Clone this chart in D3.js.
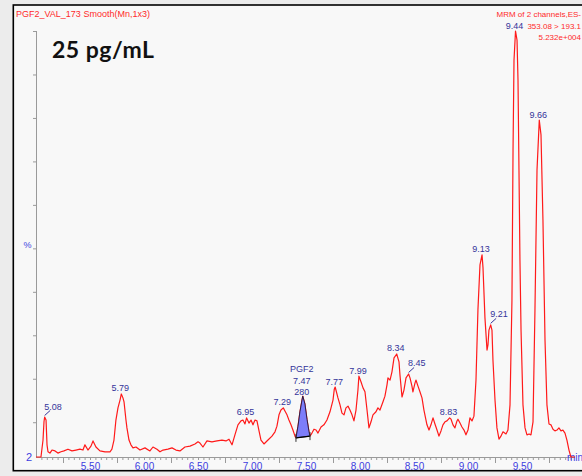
<!DOCTYPE html>
<html>
<head>
<meta charset="utf-8">
<script src="https://cdn.jsdelivr.net/npm/d3@7"></script>
<style>
  html, body { margin: 0; padding: 0; background: #ececec; overflow: hidden; }
  svg { display: block; }
  text { font-family: "Liberation Sans", Arial, sans-serif; }
</style>
</head>
<body>
<svg id="chart" width="582" height="476"></svg>
<script>
// Chromatogram trace: retention time (min) and relative intensity (%)
const rtMin = [
  5.000, 5.046, 5.065, 5.074, 5.080, 5.093, 5.102, 5.111, 5.129, 5.148,
  5.176, 5.203, 5.231, 5.259, 5.296, 5.333, 5.370, 5.407, 5.435, 5.453,
  5.481, 5.509, 5.528, 5.555, 5.592, 5.639, 5.685, 5.703, 5.722, 5.740,
  5.759, 5.778, 5.790, 5.805, 5.815, 5.833, 5.842, 5.861, 5.879, 5.898,
  5.926, 5.963, 6.009, 6.055, 6.083, 6.120, 6.148, 6.176, 6.222, 6.259,
  6.296, 6.333, 6.379, 6.426, 6.472, 6.500, 6.518, 6.546, 6.583, 6.629,
  6.676, 6.722, 6.759, 6.787, 6.815, 6.842, 6.870, 6.898, 6.916, 6.935,
  6.950, 6.972, 6.991, 7.009, 7.028, 7.046, 7.065, 7.083, 7.111, 7.148,
  7.185, 7.213, 7.231, 7.250, 7.268, 7.290, 7.305, 7.324, 7.342, 7.361,
  7.379, 7.398, 7.407, 7.426, 7.444, 7.463, 7.470, 7.490, 7.509, 7.528,
  7.537, 7.555, 7.574, 7.593, 7.611, 7.639, 7.666, 7.694, 7.722, 7.750,
  7.762, 7.770, 7.796, 7.815, 7.833, 7.852, 7.870, 7.889, 7.907, 7.926,
  7.944, 7.963, 7.981, 7.990, 8.009, 8.028, 8.046, 8.065, 8.083, 8.102,
  8.120, 8.148, 8.166, 8.185, 8.213, 8.231, 8.250, 8.259, 8.278, 8.296,
  8.315, 8.340, 8.361, 8.370, 8.389, 8.407, 8.426, 8.450, 8.463, 8.481,
  8.490, 8.509, 8.518, 8.537, 8.555, 8.574, 8.592, 8.611, 8.620, 8.639,
  8.657, 8.676, 8.694, 8.713, 8.731, 8.750, 8.768, 8.787, 8.805, 8.830,
  8.843, 8.861, 8.879, 8.898, 8.907, 8.926, 8.944, 8.963, 8.981, 9.000,
  9.018, 9.037, 9.055, 9.074, 9.092, 9.111, 9.130, 9.139, 9.157, 9.176,
  9.185, 9.194, 9.210, 9.222, 9.231, 9.250, 9.268, 9.287, 9.305, 9.324,
  9.352, 9.370, 9.389, 9.407, 9.417, 9.426, 9.440, 9.454, 9.463, 9.472,
  9.481, 9.491, 9.509, 9.528, 9.546, 9.565, 9.583, 9.602, 9.620, 9.639,
  9.660, 9.676, 9.694, 9.713, 9.731, 9.750, 9.768, 9.787, 9.805, 9.824,
  9.842, 9.861, 9.879, 9.898, 9.916, 9.935, 9.953, 9.990
];
const intensityPct = [
  2.0, 2.0, 5.9, 10.1, 11.2, 10.5, 4.8, 3.2, 2.9, 3.6,
  3.4, 2.9, 3.2, 3.4, 3.8, 3.4, 3.6, 3.8, 3.6, 4.8,
  3.6, 4.5, 5.7, 4.3, 3.4, 3.2, 3.2, 3.8, 5.9, 10.5,
  13.3, 15.1, 16.5, 15.6, 14.7, 10.5, 8.7, 5.9, 4.8, 4.1,
  4.3, 3.6, 4.1, 3.4, 4.3, 3.8, 3.2, 3.6, 3.8, 4.1,
  3.6, 3.4, 4.3, 4.5, 5.0, 5.5, 5.2, 4.3, 5.7, 5.5,
  5.7, 5.9, 5.7, 6.1, 4.8, 7.1, 9.4, 10.3, 10.5, 9.6,
  11.0, 9.8, 10.5, 9.4, 10.5, 10.3, 8.0, 5.9, 5.0, 5.9,
  6.8, 7.8, 9.1, 11.7, 12.8, 13.3, 12.6, 11.7, 10.5, 9.4,
  8.2, 6.8, 6.4, 9.1, 12.4, 15.1, 16.0, 14.2, 10.7, 7.8,
  6.8, 7.5, 8.4, 8.2, 7.5, 8.9, 9.4, 10.5, 12.4, 15.1,
  17.6, 18.1, 15.6, 14.0, 12.1, 11.7, 13.3, 13.7, 12.8, 11.7,
  10.3, 12.8, 17.4, 20.6, 19.3, 17.9, 17.0, 12.8, 8.7, 10.1,
  11.7, 12.4, 13.3, 12.8, 14.7, 16.0, 18.6, 20.2, 19.7, 21.6,
  24.8, 25.7, 23.9, 20.9, 15.8, 17.4, 20.2, 21.1, 20.2, 18.3,
  17.0, 19.0, 19.7, 18.3, 17.0, 15.6, 12.8, 10.5, 9.4, 8.2,
  9.4, 11.0, 9.6, 8.2, 6.8, 8.0, 9.4, 10.1, 10.3, 11.0,
  10.7, 9.4, 8.7, 10.3, 10.7, 9.8, 8.9, 8.2, 7.1, 8.2,
  11.0, 10.3, 11.4, 19.7, 35.8, 46.2, 48.5, 45.5, 34.0, 26.6,
  27.8, 31.2, 32.4, 31.2, 24.3, 15.1, 8.7, 6.1, 6.8, 7.8,
  7.3, 8.2, 14.0, 38.1, 72.6, 93.3, 100.0, 97.9, 88.7, 68.0,
  47.3, 31.2, 14.0, 8.7, 7.1, 7.3, 7.1, 10.1, 35.8, 68.0,
  79.5, 76.1, 56.5, 28.9, 14.0, 9.6, 9.4, 8.4, 8.0, 8.2,
  8.7, 8.0, 8.2, 7.5, 5.9, 3.6, 2.0, 2.0
];

// Apex annotations (retention times as printed on the chart)
const peakTimes = [5.08, 5.79, 6.95, 7.29, 7.47, 7.77, 7.99, 8.34, 8.45, 8.83, 9.13, 9.21, 9.44, 9.66];
// Peaks whose label is pushed aside with a short leader line
const leaderPeaks = [5.08, 8.45, 9.21];

// Integrated PGF2 peak: name, apex time, area, integration start / end (min, %)
const pgfName = "PGF2";
const pgfApex = 7.47;
const pgfArea = 280;
const pgfStart = [7.407, 6.4];
const pgfEnd = [7.537, 6.8];

// Axis annotations
const xTickLabels = [5.5, 6.0, 6.5, 7.0, 7.5, 8.0, 8.5, 9.0, 9.5];
const yTickValues = [10, 20, 30, 40, 50, 60, 70, 80, 90, 100];
const yOffsetLabel = "2";

// Header texts
const traceTitle = "PGF2_VAL_173 Smooth(Mn,1x3)";
const sampleTitle = "25 pg/mL";
const channelInfo = ["MRM of 2 channels,ES-", "353.08 > 193.1", "5.232e+004"];

const svg = d3.select("#chart");

// Window frame
svg.append("rect")
  .attr("x", 13.3).attr("y", 5).attr("width", 620).attr("height", 465.7)
  .attr("fill", "#f8f8f8").attr("stroke", "#000").attr("stroke-width", 1.6);

const x = d3.scaleLinear().domain([5, 10]).range([36, 576]);
const y = d3.scaleLinear().domain([2, 100]).range([457, 31]);

// X axis: minor ticks every 0.05 min, longer ticks on the quarter minutes
const minorTicks = d3.range(5.05, 9.96, 0.05).map(v => +v.toFixed(2));
const quarterTicks = [5.25, 5.75, 6.25, 6.75, 7.25, 7.75, 8.25, 8.75, 9.25, 9.75];
const axisColor = "#9a9a9a";
const labelBlue = "#3d3de0";

const gx = svg.append("g").attr("transform", "translate(0,457)");
gx.call(d3.axisBottom(x).tickValues(minorTicks).tickSize(3).tickSizeOuter(0).tickFormat(""));
gx.append("g").call(d3.axisBottom(x).tickValues(quarterTicks).tickSize(6).tickSizeOuter(0).tickFormat(""))
  .select(".domain").remove();
gx.append("g").call(d3.axisBottom(x).tickValues(xTickLabels).tickSize(0).tickPadding(6)
    .tickFormat(d3.format(".2f")))
  .call(g => g.select(".domain").remove());
gx.selectAll("path.domain").attr("stroke", axisColor).attr("d", `M36,0.5H575`);
gx.selectAll(".tick line").attr("stroke", axisColor);
gx.selectAll(".tick text").attr("fill", labelBlue).attr("font-size", 10)
  .style("font-family", "'Liberation Sans', Arial, sans-serif");
gx.append("text").attr("x", 575).attr("y", 4).attr("fill", labelBlue)
  .attr("font-size", 10).text("min");

// Y axis
const gy = svg.append("g").attr("transform", "translate(36,0)");
gy.call(d3.axisLeft(y).tickValues(yTickValues).tickSize(3).tickSizeOuter(0).tickFormat(""));
gy.selectAll("path.domain").attr("stroke", axisColor).attr("d", `M0.5,${y(100)}V${y(2)}`);
gy.selectAll(".tick line").attr("stroke", axisColor);

svg.append("text").attr("x", 27.5).attr("y", 248).attr("text-anchor", "middle")
  .attr("fill", labelBlue).attr("font-size", 9).text("%");
svg.append("text").attr("x", 29).attr("y", 461).attr("text-anchor", "middle")
  .attr("fill", labelBlue).attr("font-size", 11).text(yOffsetLabel);

// Trace
const trace = rtMin.map((t, i) => [t, intensityPct[i]]);
const line = d3.line().x(d => x(d[0])).y(d => y(d[1]));

svg.append("path").datum(trace)
  .attr("d", line)
  .attr("fill", "none")
  .attr("stroke", "#ff1a1a")
  .attr("stroke-width", 1.2)
  .attr("stroke-linejoin", "round");

// Integrated PGF2 area between trace and its baseline
const baseAt = t => pgfStart[1] + (t - pgfStart[0]) / (pgfEnd[0] - pgfStart[0]) * (pgfEnd[1] - pgfStart[1]);
const pgfPts = trace.filter(d => d[0] >= pgfStart[0] - 1e-6 && d[0] <= pgfEnd[0] + 1e-6);
const area = d3.area().x(d => x(d[0])).y0(d => y(baseAt(d[0]))).y1(d => y(d[1]));
svg.append("path").datum(pgfPts)
  .attr("d", area)
  .attr("fill", "#7d7dfa")
  .attr("stroke", "#1a1a40")
  .attr("stroke-width", 0.9);
svg.append("line")
  .attr("x1", x(pgfStart[0])).attr("y1", y(pgfStart[1]))
  .attr("x2", x(pgfEnd[0])).attr("y2", y(pgfEnd[1]))
  .attr("stroke", "#000").attr("stroke-width", 1.2);
[pgfStart, pgfEnd].forEach(p => {
  svg.append("line")
    .attr("x1", x(p[0])).attr("x2", x(p[0]))
    .attr("y1", y(p[1]) - 4).attr("y2", y(p[1]) + 4)
    .attr("stroke", "#333").attr("stroke-width", 1);
});

// Peak labels
const peakColor = "#34349a";
const valueAt = t => intensityPct[rtMin.findIndex(r => Math.abs(r - t) < 1e-6)];
peakTimes.forEach(t => {
  const px = x(t), py = y(valueAt(t));
  const txt = t.toFixed(2);
  if (t === pgfApex) {
    [pgfName, txt, String(pgfArea)].forEach((s, i, arr) => {
      svg.append("text").attr("x", px - 1).attr("y", py - 1 - (arr.length - 1 - i) * 11.5)
        .attr("text-anchor", "middle").attr("fill", peakColor).attr("font-size", 9).text(s);
    });
  } else if (leaderPeaks.includes(t)) {
    svg.append("line").attr("x1", px).attr("y1", py - 1.5).attr("x2", px + 5.5).attr("y2", py - 6.5)
      .attr("stroke", peakColor).attr("stroke-width", 1);
    svg.append("text").attr("x", px - 0.5).attr("y", py - 7.5)
      .attr("text-anchor", "start").attr("fill", peakColor).attr("font-size", 9).text(txt);
  } else {
    svg.append("text").attr("x", px - 1).attr("y", py - 2.5)
      .attr("text-anchor", "middle").attr("fill", peakColor).attr("font-size", 9).text(txt);
  }
});

// Header texts
svg.append("text").attr("x", 16).attr("y", 17).attr("fill", "#ff2a2a")
  .attr("font-size", 9).text(traceTitle);
svg.append("text").attr("x", 52).attr("y", 58).attr("fill", "#111")
  .style("font-family", "Lato, 'Open Sans', sans-serif").attr("font-weight", "bold")
  .attr("font-size", 23).attr("textLength", 102).attr("lengthAdjust", "spacing")
  .text(sampleTitle);
// Acquisition info, right-aligned to the window edge
[17, 28.5, 39.5].forEach((ty, i) => {
  svg.append("text").attr("x", 581).attr("y", ty).attr("fill", "#ff2a2a")
    .attr("text-anchor", "end").attr("font-size", 8).text(channelInfo[i]);
});
</script>
</body>
</html>
